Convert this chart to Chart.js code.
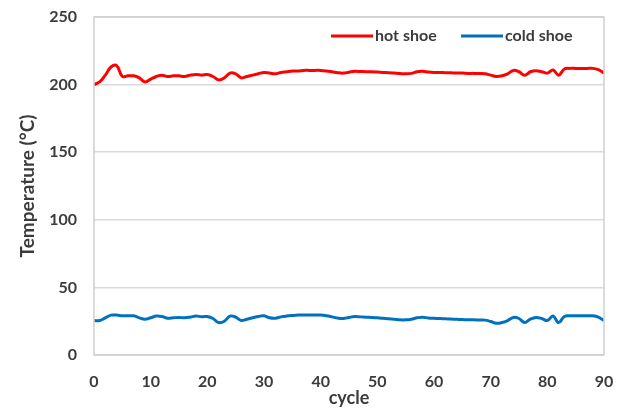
<!DOCTYPE html>
<html>
<head>
<meta charset="utf-8">
<script src="https://cdn.jsdelivr.net/npm/chart.js@4"></script>
<style>
  html, body { margin: 0; padding: 0; background: #ffffff; }
  #wrap { width: 622px; height: 415px; }
</style>
</head>
<body>
<div id="wrap"><canvas id="chart" width="622" height="415"></canvas></div>
<script>
// Cycle numbers 0..90
const cycles = [
  0,1,2,3,4,5,6,7,8,9,10,11,12,13,14,15,16,17,18,19,20,
  21,22,23,24,25,26,27,28,29,30,31,32,33,34,35,36,37,38,39,40,
  41,42,43,44,45,46,47,48,49,50,51,52,53,54,55,56,57,58,59,60,
  61,62,63,64,65,66,67,68,69,70,71,72,73,74,75,76,77,78,79,80,
  81,82,83,84,85,86,87,88,89,90
];

// Hot shoe temperature per cycle (°C)
const hotShoe = [
  200,202,207,213,214,206,206.5,206.5,205,202,204,
  206,207,206,206.5,206.5,206,207,207.5,207,207.5,
  206,203.5,205,208.5,208,205,206,207,208,209,
  208.5,208,209,209.5,210,210,210.5,210.5,210.5,210.5,
  210,209.5,208.8,208.5,209.2,209.8,209.7,209.5,209.5,209.3,
  209,208.8,208.5,208.2,208,208.3,209.5,209.8,209.3,209,
  209,208.8,208.7,208.6,208.5,208.3,208.3,208.2,208,207,
  206,206.5,208,210.5,209.5,207,209.5,210.3,209.5,208.5,
  210.8,207,211.5,212,212,212,212,212,211,208.5
];

// Cold shoe temperature per cycle (°C)
const coldShoe = [
  25.5,25.5,27.5,29.5,29.5,29,29,29,27.5,26.5,27.5,
  28.8,28.5,27.2,27.5,27.8,27.5,28,28.8,28.3,28.5,
  27,24,25,28.8,28,25.5,26.5,27.5,28.5,29,
  27.5,27.2,28.2,28.8,29.2,29.5,29.6,29.6,29.6,29.5,
  29,28.2,27.3,27,27.8,28.4,28.2,28,27.8,27.5,
  27.2,26.8,26.5,26,26,26.5,27.5,28,27.3,27.1,
  27,26.8,26.6,26.4,26.2,26,26,25.9,25.8,24.8,
  23.5,24,25.5,27.8,27,24,26.5,27.8,27,25.5,
  28.8,24,28.5,29,29,29,29,29,28,25.5
];

const xTicks = [0,10,20,30,40,50,60,70,80,90];
const yTicks = [0,50,100,150,200,250];

const textColor = '#3b3b3b';
const fontFamily = 'Lato, "Liberation Sans", sans-serif';

// Grey frame around the plotting area
const plotFrame = {
  id: 'plotFrame',
  afterDraw(chart) {
    const a = chart.chartArea, ctx = chart.ctx;
    ctx.save();
    ctx.strokeStyle = '#d0d0d0';
    ctx.lineWidth = 1.5;
    ctx.strokeRect(a.left, a.top, a.right - a.left, a.bottom - a.top);
    ctx.restore();
  }
};

// Line-sample legend in the top right corner of the plot
const lineLegend = {
  id: 'lineLegend',
  afterDraw(chart) {
    const ctx = chart.ctx;
    const items = chart.data.datasets;
    const starts = [331, 461];
    const y = 36;
    ctx.save();
    ctx.font = 'bold 16px ' + fontFamily;
    ctx.textBaseline = 'middle';
    items.forEach((ds, i) => {
      const x = starts[i];
      ctx.strokeStyle = ds.borderColor;
      ctx.lineWidth = 3;
      ctx.beginPath();
      ctx.moveTo(x, y);
      ctx.lineTo(x + 42, y);
      ctx.stroke();
      ctx.fillStyle = textColor;
      ctx.fillText(ds.label, x + 44, y);
    });
    ctx.restore();
  }
};

// Let layout.padding alone decide the plot margins
function clearScalePadding(scale) {
  scale.paddingTop = 0;
  scale.paddingBottom = 0;
  scale.paddingLeft = 0;
  scale.paddingRight = 0;
}

new Chart(document.getElementById('chart'), {
  type: 'line',
  data: {
    datasets: [
      {
        label: 'hot shoe',
        data: cycles.map((c, i) => ({ x: c, y: hotShoe[i] })),
        borderColor: '#ff0000',
        borderWidth: 3,
        pointRadius: 0,
        tension: 0.4,
        fill: false
      },
      {
        label: 'cold shoe',
        data: cycles.map((c, i) => ({ x: c, y: coldShoe[i] })),
        borderColor: '#0070c0',
        borderWidth: 3,
        pointRadius: 0,
        tension: 0.4,
        fill: false
      }
    ]
  },
  options: {
    responsive: false,
    animation: false,
    devicePixelRatio: 1,
    layout: { padding: { top: 17, right: 18, left: 0, bottom: 0 } },
    plugins: {
      legend: { display: false },
      tooltip: { enabled: false }
    },
    scales: {
      x: {
        type: 'linear',
        min: 0,
        max: 90,
        afterBuildTicks(scale) { scale.ticks = xTicks.map(v => ({ value: v })); },
        afterFit(scale) { scale.height = 60; clearScalePadding(scale); },
        grid: { display: false, drawTicks: false },
        border: { display: false },
        ticks: {
          padding: 17,
          color: textColor,
          font: { family: fontFamily, size: 16, weight: 'bold' }
        },
        title: {
          display: true,
          text: 'cycle',
          color: textColor,
          font: { family: fontFamily, size: 18, weight: 'bold' },
          padding: { top: 0, bottom: 6 }
        }
      },
      y: {
        min: 0,
        max: 250,
        afterBuildTicks(scale) { scale.ticks = yTicks.map(v => ({ value: v })); },
        afterFit(scale) { scale.width = 94; clearScalePadding(scale); },
        grid: { color: '#d9d9d9', lineWidth: 1.5, drawTicks: false },
        border: { display: false },
        ticks: {
          padding: 17,
          color: textColor,
          font: { family: fontFamily, size: 16, weight: 'bold' }
        },
        title: {
          display: true,
          text: 'Temperature (°C)',
          color: textColor,
          font: { family: fontFamily, size: 19, weight: 'bold' },
          padding: { top: 16, bottom: 0 }
        }
      }
    }
  },
  plugins: [plotFrame, lineLegend]
});
</script>
</body>
</html>
